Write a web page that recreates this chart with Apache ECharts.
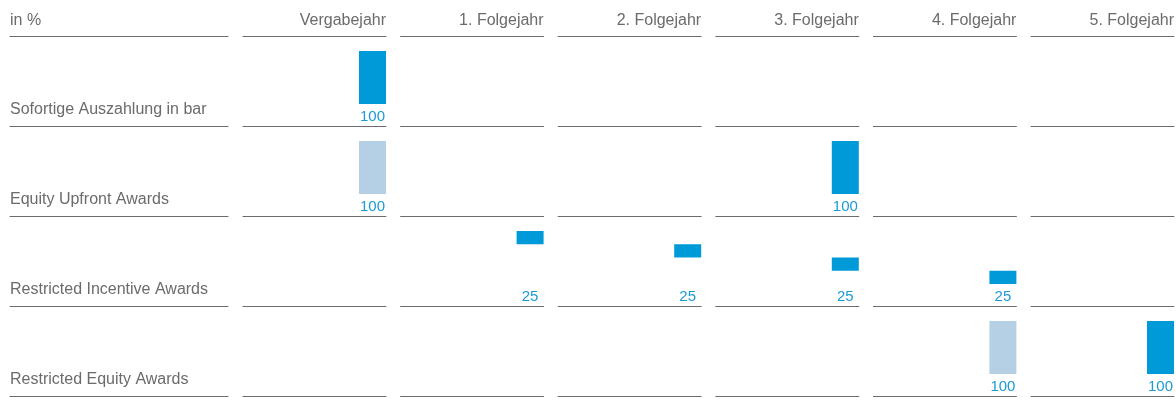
<!DOCTYPE html>
<html>
<head>
<meta charset="utf-8">
<script src="https://cdn.jsdelivr.net/npm/echarts@6/dist/echarts.min.js"></script>
<style>
html, body { margin: 0; padding: 0; background: #fff; }
#chart { width: 1176px; height: 413px; }
</style>
</head>
<body>
<div id="chart"></div>
<script>
// Spalten und Zeilen
var columns = ['Vergabejahr', '1. Folgejahr', '2. Folgejahr', '3. Folgejahr', '4. Folgejahr', '5. Folgejahr'];
var rowNames = ['Sofortige Auszahlung in bar', 'Equity Upfront Awards', 'Restricted Incentive Awards', 'Restricted Equity Awards'];
var unitLabel = 'in %';

// Werte je Zeile in % (null = kein Balken)
var sofortigeValues  = [100, null, null, null, null, null];
var upfrontValues    = [100, null, null, 100, null, null];
var incentiveValues  = [null, 25, 25, 25, 25, null];
var restrictedValues = [null, null, null, null, 100, 100];

// unsichtbarer Sockel (gestaffelte Auszahlung)
var sofortigeBase  = [0, null, null, null, null, null];
var upfrontBase    = [0, null, null, 0, null, null];
var incentiveBase  = [null, 75, 50, 25, 0, null];
var restrictedBase = [null, null, null, null, 0, 0];

// Balkenart: 'dark' = Auszahlung, 'light' = Zuteilung
var sofortigeKind  = ['dark', null, null, null, null, null];
var upfrontKind    = ['light', null, null, 'dark', null, null];
var incentiveKind  = [null, 'dark', 'dark', 'dark', 'dark', null];
var restrictedKind = [null, null, null, null, 'light', 'dark'];

var rowValues = [sofortigeValues, upfrontValues, incentiveValues, restrictedValues];
var rowBase = [sofortigeBase, upfrontBase, incentiveBase, restrictedBase];
var rowKind = [sofortigeKind, upfrontKind, incentiveKind, restrictedKind];

var COLORS = { dark: '#009ad8', light: '#b5d0e5' };
var TEXT = '#6b6b6b';
var VALUE_TEXT = '#1a9ad6';
var LINE = '#6c6c70';
var FONT = '"Liberation Sans", Arial, sans-serif';

// Layout
var colLeft = 243, colPitch = 157.6, colWidth = 143;
var barWidth = 27;
var rowTop = 51, rowPitch = 90, barHeight = 53, lineOffset = 22;
var gapPct = ((colWidth - 2 * barWidth) / barWidth * 100) + '%';

var grids = [], xAxes = [], yAxes = [], series = [], titles = [];

function addGrid(left, top, width, height, offset) {
    var g = grids.length;
    grids.push({ left: left, top: top, width: width, height: height, containLabel: false });
    xAxes.push({
        gridIndex: g, type: 'category', data: [''],
        offset: offset,
        axisLine: { show: true, onZero: false, lineStyle: { color: LINE, width: 1 } },
        axisTick: { show: false }, axisLabel: { show: false }, splitLine: { show: false }
    });
    yAxes.push({
        gridIndex: g, type: 'value', min: 0, max: 100, show: false,
        splitLine: { show: false }
    });
    return g;
}

function textStyle(size) {
    return { color: TEXT, fontSize: size, fontWeight: 'normal', fontFamily: FONT };
}

// Kopfzeile
addGrid(10, 0, 218, 36, 0);
titles.push({ text: unitLabel, left: 10, top: 13, padding: 0, textStyle: textStyle(16) });
columns.forEach(function (name, c) {
    var left = colLeft + c * colPitch;
    addGrid(left, 0, colWidth, 36, 0);
    titles.push({ text: name, right: 1176 - (left + colWidth), top: 13, padding: 0, textStyle: textStyle(16) });
});

// Zeilen
rowNames.forEach(function (name, r) {
    var top = rowTop + r * rowPitch;
    addGrid(10, top, 218, barHeight, lineOffset);
    titles.push({ text: name, left: 10, top: top + 51, padding: 0, textStyle: textStyle(16) });

    columns.forEach(function (col, c) {
        var g = addGrid(colLeft + c * colPitch, top, colWidth, barHeight, lineOffset);
        var v = rowValues[r][c];
        if (v == null) return;
        // Platzhalter, damit der Balken rechtsbündig in der Zelle steht
        series.push({
            type: 'bar', xAxisIndex: g, yAxisIndex: g, stack: 'pad' + g,
            barWidth: barWidth, barGap: gapPct,
            data: [null], silent: true
        });
        series.push({
            type: 'bar', xAxisIndex: g, yAxisIndex: g, stack: 'val' + g,
            barWidth: barWidth, barGap: gapPct,
            data: [rowBase[r][c]],
            itemStyle: { color: 'rgba(0,0,0,0)' },
            label: {
                show: true, position: 'bottom', distance: 5,
                formatter: String(v),
                color: VALUE_TEXT, fontSize: 15, fontFamily: FONT
            },
            silent: true
        });
        series.push({
            type: 'bar', xAxisIndex: g, yAxisIndex: g, stack: 'val' + g,
            barWidth: barWidth, barGap: gapPct,
            data: [{ value: v, itemStyle: { color: COLORS[rowKind[r][c]] } }],
            silent: true
        });
    });
});

var myChart = echarts.init(document.getElementById('chart'));
var option = {
    animation: false,
    backgroundColor: '#fff',
    title: titles,
    grid: grids,
    xAxis: xAxes,
    yAxis: yAxes,
    series: series
};
myChart.setOption(option);
</script>
</body>
</html>
